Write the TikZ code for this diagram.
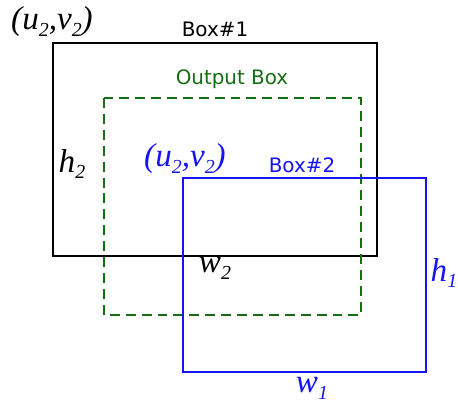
\documentclass[tikz,border=0pt]{standalone}
\usepackage{fontspec}
\setmainfont{Liberation Serif}
\setsansfont{DejaVu Sans}
\usepackage{xcolor}
\usetikzlibrary{positioning}
\definecolor{boxblue}{RGB}{20, 20, 245}
\definecolor{boxgreen}{RGB}{20, 110, 20}
\newcommand{\lowsub}[1]{\raisebox{-0.45ex}{\fontsize{15pt}{16pt}\selectfont\itshape #1}}
\begin{document}
\begin{tikzpicture}[x=0.0265cm, y=-0.0265cm,
  bbox/.style={line width=1.4pt},
  obox/.style={line width=1.4pt, color=boxgreen, dash pattern=on 7.5pt off 4.5pt},
  boxname/.style={font=\sffamily\fontsize{15pt}{17pt}\selectfont, inner sep=1pt},
  var/.style={font=\fontsize{25pt}{27pt}\selectfont\itshape, inner sep=1pt}
]
\useasboundingbox (0,0) rectangle (458,407);
% rectangles
\draw[bbox, black]   (53,43)   rectangle (377,256);
\draw[obox]          (104,98)  rectangle (361,315);
\draw[bbox, boxblue] (183,178) rectangle (426,372);
% box names
\node[boxname]                  at (215,29)  (box1)   {Box\#1};
\node[boxname, text=boxgreen]   at (232,79)  (outbox) {Output Box};
\node[boxname, text=boxblue]    at (302,165) (box2)   {Box\#2};
% variables
\node[var]                   at (52,22)   (uv1) {(u\lowsub{2},v\lowsub{2})};
\node[var]                   at (72,164)  (h2)  {h\lowsub{2}};
\node[var, text=boxblue]     at (185,159) (uv2) {(u\lowsub{2},v\lowsub{2})};
\node[var]                   at (215,268) (w2)  {w\lowsub{2}};
\node[var, text=boxblue]     at (444,273) (h1)  {h\lowsub{1}};
\node[var, text=boxblue]     at (312,388) (w1)  {w\lowsub{1}};
\end{tikzpicture}
\end{document}
